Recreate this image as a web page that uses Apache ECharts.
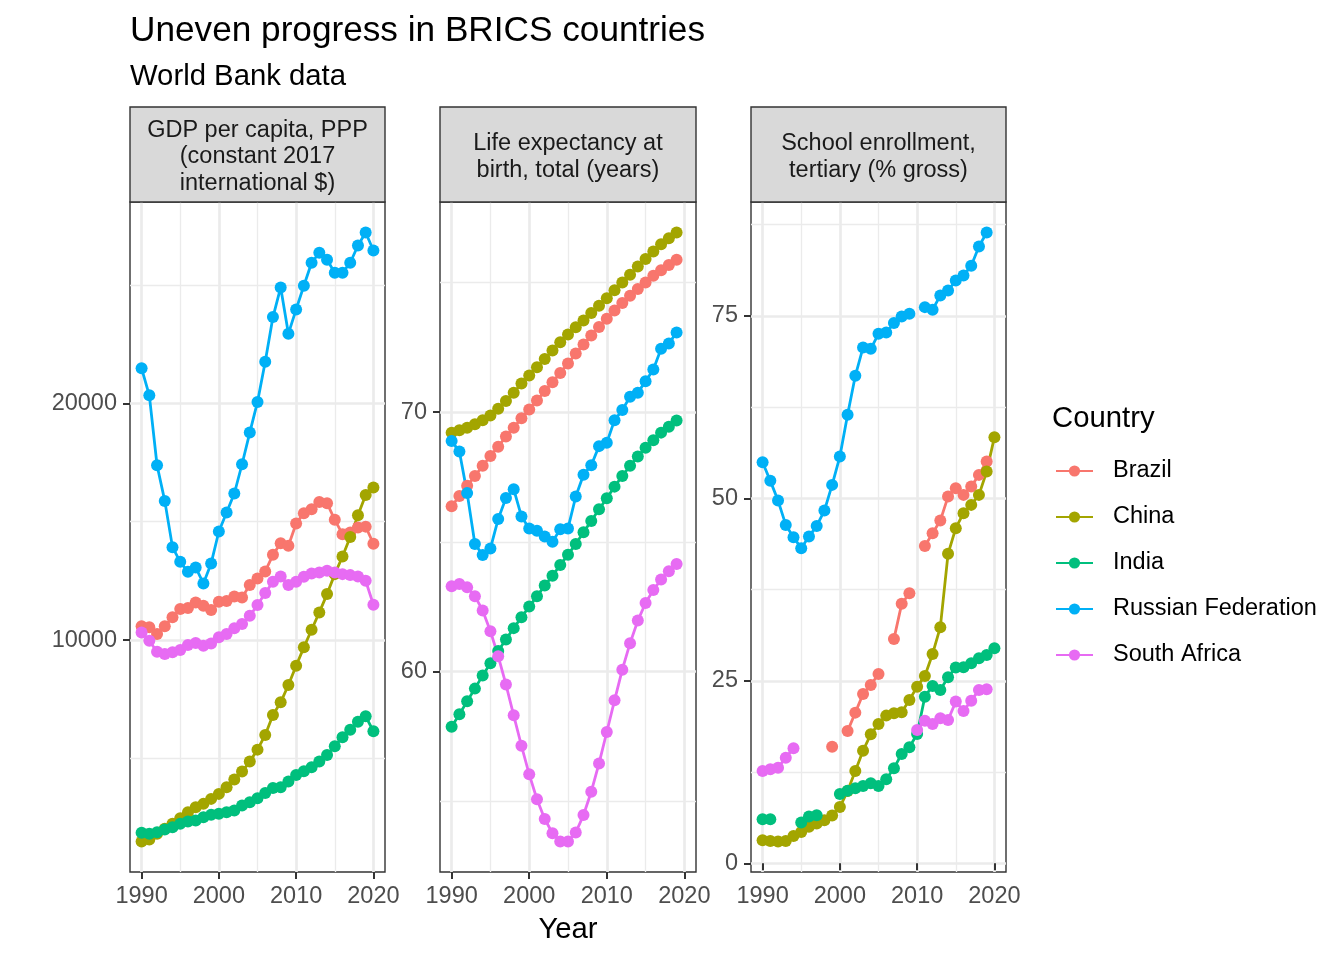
<!DOCTYPE html>
<html><head><meta charset="utf-8">
<script src="https://cdn.jsdelivr.net/npm/echarts@6/dist/echarts.min.js"></script>
<style>html,body{margin:0;padding:0;background:#fff}#c{width:1344px;height:960px}</style>
</head><body><div id="c"></div>
<script>
// ---------- data ----------
const years = [1990,1991,1992,1993,1994,1995,1996,1997,1998,1999,2000,2001,2002,2003,2004,2005,2006,2007,2008,2009,2010,2011,2012,2013,2014,2015,2016,2017,2018,2019,2020];
const countries = ['Brazil','China','India','Russian Federation','South Africa'];
const panelTitles = ['GDP per capita, PPP\n(constant 2017\ninternational $)','Life expectancy at\nbirth, total (years)','School enrollment,\ntertiary (% gross)'];
const xTicks = [1990,2000,2010,2020];
const xMinorTicks = [1995,2005,2015];
const gdpTicks = [10000,20000];
const gdpMinorTicks = [5000,15000,25000];
const lifeTicks = [60,70];
const lifeMinorTicks = [55,65,75];
const schoolTicks = [0,25,50,75];
const schoolMinorTicks = [12.5,37.5,62.5,87.5];

const gdpBrazil = [10578,10536,10253,10578,10958,11308,11350,11590,11448,11266,11617,11645,11842,11800,12320,12602,12898,13600,14093,13980,14924,15358,15527,15835,15780,15076,14472,14544,14755,14790,14065];
const gdpChina = [1490,1575,1815,2026,2237,2477,2730,2941,3081,3292,3503,3785,4106,4444,4866,5372,5992,6836,7370,8101,8917,9691,10436,11167,11941,12784,13531,14350,15274,16130,16442];
const gdpIndia = [1857,1815,1886,1996,2097,2237,2335,2377,2519,2617,2659,2730,2798,3009,3150,3319,3545,3756,3785,4022,4304,4458,4627,4866,5148,5515,5895,6216,6554,6779,6148];
const gdpRussia = [21476,20337,17383,15877,13924,13303,12883,13067,12392,13236,14586,15388,16189,17425,18762,20055,21758,23640,24893,22940,23965,24965,25935,26357,26062,25513,25513,25935,26665,27214,26454];
const gdpSouthAfrica = [10323,9972,9508,9409,9480,9578,9789,9873,9761,9859,10114,10253,10494,10675,11026,11477,11983,12461,12686,12320,12461,12672,12813,12855,12925,12855,12784,12742,12686,12503,11489];

const lifeBrazil = [66.37,66.77,67.16,67.54,67.93,68.31,68.67,69.06,69.40,69.76,70.10,70.45,70.81,71.15,71.51,71.87,72.26,72.60,72.95,73.28,73.60,73.91,74.20,74.48,74.74,74.99,75.25,75.46,75.67,75.87,null];
const lifeChina = [69.21,69.30,69.40,69.53,69.69,69.87,70.13,70.43,70.75,71.10,71.41,71.73,72.05,72.37,72.69,72.99,73.27,73.53,73.82,74.10,74.39,74.69,74.99,75.29,75.61,75.90,76.19,76.47,76.70,76.92,null];
const lifeIndia = [57.88,58.36,58.86,59.35,59.86,60.33,60.80,61.24,61.68,62.10,62.51,62.91,63.32,63.70,64.11,64.51,64.92,65.37,65.81,66.26,66.68,67.13,67.54,67.93,68.29,68.63,68.92,69.21,69.44,69.68,null];
const lifeRussia = [68.89,68.48,66.88,64.92,64.50,64.75,65.88,66.69,67.03,65.98,65.52,65.43,65.21,65.01,65.49,65.52,66.75,67.59,67.95,68.69,68.82,69.69,70.08,70.59,70.75,71.19,71.64,72.44,72.64,73.07,null];
const lifeSouthAfrica = [63.29,63.38,63.25,62.91,62.36,61.56,60.60,59.51,58.32,57.15,56.05,55.09,54.33,53.78,53.46,53.46,53.81,54.48,55.38,56.47,57.68,58.90,60.08,61.10,61.97,62.65,63.15,63.55,63.87,64.15,null];

const schoolBrazil = [null,null,null,null,null,null,null,null,null,15.98,null,18.13,20.64,23.20,24.43,25.94,null,30.74,35.54,37.00,null,43.48,45.22,46.95,50.24,51.39,50.47,51.61,53.21,55.04,null];
const schoolChina = [3.15,3.07,2.98,3.05,3.75,4.30,5.00,5.45,5.90,6.55,7.70,9.90,12.65,15.43,17.67,19.09,20.23,20.55,20.69,22.38,24.20,25.67,28.68,32.34,42.39,45.91,47.96,49.10,50.47,53.67,58.38];
const schoolIndia = [6.05,6.05,null,null,null,5.60,6.40,6.58,null,null,9.50,9.95,10.28,10.59,10.96,10.59,11.51,13.02,14.98,15.90,17.72,22.83,24.30,23.75,25.49,26.81,26.86,27.41,28.09,28.55,29.46];
const schoolRussia = [54.95,52.39,49.69,46.36,44.68,43.17,44.76,46.22,48.32,51.84,55.72,61.44,66.78,70.66,70.48,72.54,72.71,74.00,74.91,75.28,null,76.19,75.83,77.79,78.47,79.84,80.53,81.86,84.50,86.42,null];
const schoolSouthAfrica = [12.65,12.88,13.10,14.47,15.76,null,null,null,null,null,null,null,null,null,null,null,null,null,null,null,18.27,19.54,19.09,19.87,19.64,22.15,20.87,22.28,23.75,23.84,null];

// ---------- styling / layout ----------
const colors = ['#F8766D','#A3A500','#00BF7D','#00B0F6','#E76BF3'];
const FONT = '"Liberation Sans", Arial, Helvetica, sans-serif';
const panelData = [
  [gdpBrazil, gdpChina, gdpIndia, gdpRussia, gdpSouthAfrica],
  [lifeBrazil, lifeChina, lifeIndia, lifeRussia, lifeSouthAfrica],
  [schoolBrazil, schoolChina, schoolIndia, schoolRussia, schoolSouthAfrica]
];
const majorY = [gdpTicks, lifeTicks, schoolTicks];
const minorY = [gdpMinorTicks, lifeMinorTicks, schoolMinorTicks];
const panels = [{left:130,width:255},{left:440,width:256},{left:751,width:255}];
const PTOP = 202, PH = 670, STRIP_TOP = 107;

function expandRange(arrs) {
  let lo = Infinity, hi = -Infinity;
  arrs.forEach(a => a.forEach(v => { if (v != null) { lo = Math.min(lo, v); hi = Math.max(hi, v); } }));
  const pad = (hi - lo) * 0.05;
  return [lo - pad, hi + pad];
}
const xPad = (years[years.length-1] - years[0]) * 0.05;
const xMin = years[0] - xPad, xMax = years[years.length-1] + xPad;

const grids = [], xAxes = [], yAxes = [], series = [], graphics = [];
const tickStyle = {color:'#333333', width:2};
const labelBase = {fontSize:23.5, color:'#4D4D4D', fontFamily:FONT, formatter: v => String(v)};

panels.forEach((p, i) => {
  grids.push({left:p.left, top:PTOP, width:p.width, height:PH, show:true, borderColor:'#333333', borderWidth:1.4, backgroundColor:'#FFFFFF'});
  const [yMin, yMax] = expandRange(panelData[i]);
  xAxes[i] = {type:'value', gridIndex:i, min:xMin, max:xMax, position:'bottom',
    axisLine:{show:false},
    axisTick:{show:true, customValues:xTicks, length:7, lineStyle:tickStyle},
    axisLabel:Object.assign({customValues:xTicks, margin:13}, labelBase),
    splitLine:{show:true, lineStyle:{color:'#EBEBEB', width:2.7}}};
  xAxes[i+3] = {type:'value', gridIndex:i, min:xMin, max:xMax, position:'bottom',
    axisLine:{show:false}, axisLabel:{show:false},
    axisTick:{show:false, customValues:xMinorTicks},
    splitLine:{show:true, lineStyle:{color:'#EBEBEB', width:1.35}}};
  yAxes[i] = {type:'value', gridIndex:i, min:yMin, max:yMax, position:'left',
    axisLine:{show:false},
    axisTick:{show:true, customValues:majorY[i], length:7, lineStyle:tickStyle},
    axisLabel:Object.assign({customValues:majorY[i], margin:13}, labelBase),
    splitLine:{show:true, lineStyle:{color:'#EBEBEB', width:2.7}}};
  yAxes[i+3] = {type:'value', gridIndex:i, min:yMin, max:yMax, position:'left',
    axisLine:{show:false}, axisLabel:{show:false},
    axisTick:{show:false, customValues:minorY[i]},
    splitLine:{show:true, lineStyle:{color:'#EBEBEB', width:1.35}}};

  // strip
  graphics.push({type:'rect', shape:{x:p.left, y:STRIP_TOP, width:p.width, height:PTOP-STRIP_TOP},
    style:{fill:'#D9D9D9', stroke:'#333333', lineWidth:1.4}, z:10});
  graphics.push({type:'text', x:p.left + p.width/2, y:(STRIP_TOP+PTOP)/2 + 2.5, z:11,
    style:{text:panelTitles[i], fontSize:23.5, fontFamily:FONT, fill:'#1A1A1A', align:'center', verticalAlign:'middle', lineHeight:26.3}});
});

// lines first (under), then points
panels.forEach((p, i) => {
  countries.forEach((c, k) => {
    const vals = panelData[i][k];
    series.push({type:'line', name:c, xAxisIndex:i, yAxisIndex:i, symbol:'circle', showSymbol:false,
      data: years.map((y, j) => [y, vals[j] == null ? '-' : vals[j]]),
      lineStyle:{color:colors[k], width:2.8}, itemStyle:{color:colors[k]}, z:2, silent:true, connectNulls:false});
  });
});
panels.forEach((p, i) => {
  countries.forEach((c, k) => {
    const vals = panelData[i][k];
    series.push({type:'scatter', name:c, xAxisIndex:i, yAxisIndex:i, symbol:'circle', symbolSize:12,
      data: years.map((y, j) => [y, vals[j]]).filter(d => d[1] != null),
      itemStyle:{color:colors[k], opacity:1}, z:3, silent:true});
  });
});

graphics.push({type:'text', x:130, y:31, style:{text:'Uneven progress in BRICS countries', fontSize:35.2, fontFamily:FONT, fill:'#000000', align:'left', verticalAlign:'middle'}});
graphics.push({type:'text', x:130, y:76.5, style:{text:'World Bank data', fontSize:29.3, fontFamily:FONT, fill:'#000000', align:'left', verticalAlign:'middle'}});
graphics.push({type:'text', x:568, y:930, style:{text:'Year', fontSize:29.3, fontFamily:FONT, fill:'#000000', align:'center', verticalAlign:'middle'}});
graphics.push({type:'text', x:1052, y:418.5, style:{text:'Country', fontSize:29.3, fontFamily:FONT, fill:'#000000', align:'left', verticalAlign:'middle'}});

const chart = echarts.init(document.getElementById('c'), null, {renderer:'canvas'});
chart.setOption({
  animation:false,
  backgroundColor:'#FFFFFF',
  grid:grids, xAxis:xAxes, yAxis:yAxes, series:series,
  legend:{data:countries, orient:'vertical', left:1055, top:459, padding:0, itemWidth:37, itemHeight:14, itemGap:22,
    selectedMode:false,
    textStyle:{fontSize:23.5, fontFamily:FONT, color:'#000000', lineHeight:24, padding:[0,0,0,15]}},
  graphic:graphics
});
</script>
</body></html>
